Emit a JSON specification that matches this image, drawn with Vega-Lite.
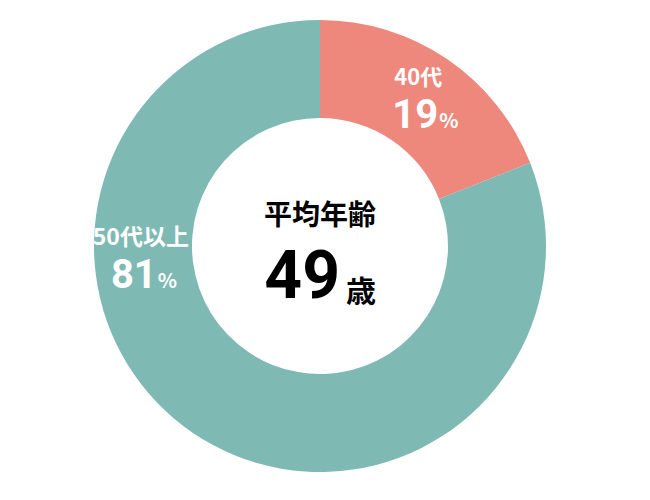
{
  "$schema": "https://vega.github.io/schema/vega-lite/v6.json",
  "width": 640,
  "height": 492,
  "autosize": "none",
  "padding": {"left": 0, "top": 0, "right": 10, "bottom": 8},
  "background": "white",
  "data": {
    "values": [
      {"group": "40代", "value": 19},
      {"group": "50代以上", "value": 81}
    ]
  },
  "encoding": {
    "theta": {"field": "value", "type": "quantitative", "stack": true},
    "color": {
      "field": "group",
      "type": "nominal",
      "scale": {"domain": ["40代", "50代以上"], "range": ["#EE887C", "#7EB9B4"]},
      "legend": null
    }
  },
  "layer": [
    {
      "mark": {"type": "arc", "radius": 226, "radius2": 128}
    },
    {
      "mark": {"type": "text", "radius": 180, "font": "Noto Sans CJK JP", "fontWeight": "bold", "fontSize": 22, "align": "center", "baseline": "middle", "dx": -3, "dy": -19},
      "encoding": {
        "text": {"condition": {"test": "datum.group === '40代'", "field": "group"}, "value": ""},
        "color": {"value": "white"}
      }
    },
    {
      "mark": {"type": "text", "radius": 180, "font": "Roboto", "fontWeight": "bold", "fontSize": 40, "align": "right", "baseline": "alphabetic", "dx": 17, "dy": 31},
      "encoding": {
        "text": {"condition": {"test": "datum.group === '40代'", "field": "value"}, "value": ""},
        "color": {"value": "white"}
      }
    },
    {
      "mark": {"type": "text", "radius": 180, "font": "Noto Sans CJK JP", "fontWeight": "bold", "fontSize": 20, "align": "left", "baseline": "alphabetic", "dx": 18, "dy": 31},
      "encoding": {
        "text": {"condition": {"test": "datum.group === '40代'", "value": "%"}, "value": ""},
        "color": {"value": "white"}
      }
    },
    {
      "mark": {"type": "text", "radius": 180, "font": "Noto Sans CJK JP", "fontWeight": "bold", "fontSize": 23, "align": "center", "baseline": "middle", "dx": -78, "dy": -157},
      "encoding": {
        "text": {"condition": {"test": "datum.group === '50代以上'", "field": "group"}, "value": ""},
        "color": {"value": "white"}
      }
    },
    {
      "mark": {"type": "text", "radius": 180, "font": "Roboto", "fontWeight": "bold", "fontSize": 40, "align": "right", "baseline": "alphabetic", "dx": -62, "dy": -107},
      "encoding": {
        "text": {"condition": {"test": "datum.group === '50代以上'", "field": "value"}, "value": ""},
        "color": {"value": "white"}
      }
    },
    {
      "mark": {"type": "text", "radius": 180, "font": "Noto Sans CJK JP", "fontWeight": "bold", "fontSize": 20, "align": "left", "baseline": "alphabetic", "dx": -61, "dy": -107},
      "encoding": {
        "text": {"condition": {"test": "datum.group === '50代以上'", "value": "%"}, "value": ""},
        "color": {"value": "white"}
      }
    },
    {
      "data": {"values": [{"title": "平均年齢", "age": 49, "unit": "歳"}]},
      "mark": {"type": "text", "font": "Noto Sans CJK JP", "fontWeight": "bold", "fontSize": 28, "align": "center", "baseline": "middle", "dy": -29, "color": "black"},
      "encoding": {"text": {"field": "title"}, "theta": null, "color": null}
    },
    {
      "data": {"values": [{"title": "平均年齢", "age": 49, "unit": "歳"}]},
      "mark": {"type": "text", "font": "Roboto", "fontWeight": "bold", "fontSize": 66, "align": "right", "baseline": "alphabetic", "dx": 20, "dy": 52, "color": "black"},
      "encoding": {"text": {"field": "age"}, "theta": null, "color": null}
    },
    {
      "data": {"values": [{"title": "平均年齢", "age": 49, "unit": "歳"}]},
      "mark": {"type": "text", "font": "Noto Sans CJK JP", "fontWeight": "bold", "fontSize": 30, "align": "left", "baseline": "alphabetic", "dx": 26, "dy": 56, "color": "black"},
      "encoding": {"text": {"field": "unit"}, "theta": null, "color": null}
    }
  ],
  "config": {"view": {"stroke": null}}
}
